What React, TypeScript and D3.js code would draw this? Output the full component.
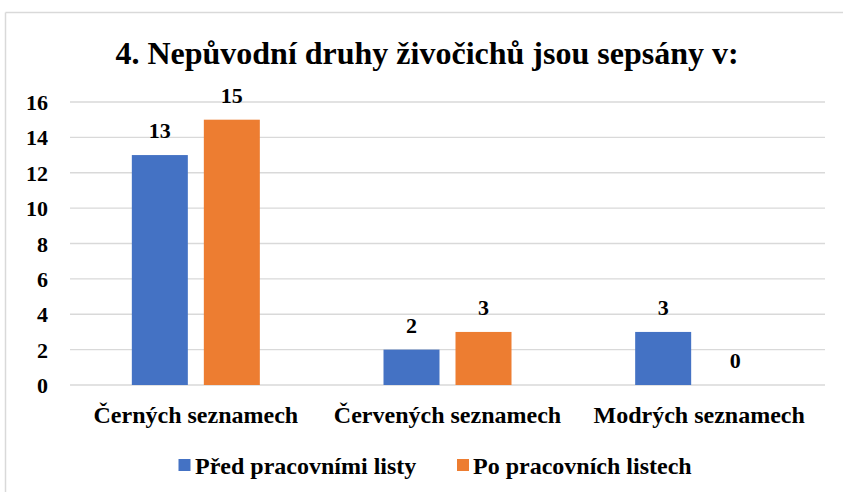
import React from "react";
import * as d3 from "d3";

const title = "4. Nepůvodní druhy živočichů jsou sepsány v:";
const categories = ["Černých seznamech", "Červených seznamech", "Modrých seznamech"];
const seriesNames = ["Před pracovními listy", "Po pracovních listech"];
const seriesBefore = [13, 2, 3];
const seriesAfter = [15, 3, 0];
const yTicks = [0, 2, 4, 6, 8, 10, 12, 14, 16];
const colors = ["#4472C4", "#ED7D31"];

const W = 843;
const H = 492;
const ts = { fontFamily: "Liberation Serif" };

export default function App() {
  const left = 70, right = 825, top = 102, bottom = 385;
  const x0 = d3.scaleBand<string>().domain(categories).range([left, right]).padding(0);
  const bw = x0.bandwidth();
  const outer = (bw - 128) / 2;
  const x1 = d3.scaleBand<string>().domain(seriesNames).range([outer, bw - outer]).paddingInner(16 / 72).paddingOuter(0);
  const y = d3.scaleLinear().domain([0, 16]).range([bottom, top]);
  const series = [seriesBefore, seriesAfter];

  return (
    <svg width={W} height={H} style={{ position: "absolute", left: 0, top: 0 }}>
      <rect x={0} y={0} width={W} height={H} fill="#fff" />
      <line x1={5.5} y1={12.5} x2={W} y2={12.5} stroke="#d9d9d9" strokeWidth={1.5} />
      <line x1={5.5} y1={12.5} x2={5.5} y2={H} stroke="#d9d9d9" strokeWidth={1.5} />
      <text x={427} y={64} textAnchor="middle" fontSize={32} fontWeight="bold" fill="#000" style={ts}>{title}</text>
      {yTicks.map((t) => (
        <g key={t}>
          <line x1={left} x2={right} y1={y(t)} y2={y(t)} stroke="#d9d9d9" strokeWidth={1.3} />
          <text x={48} y={y(t) + 8} textAnchor="end" fontSize={22} fontWeight="bold" fill="#000" style={ts}>{t}</text>
        </g>
      ))}
      {categories.map((c, i) => (
        <g key={c} transform={`translate(${x0(c)},0)`}>
          {series.map((s, j) => {
            const xx = x1(seriesNames[j])!;
            const v = s[i];
            return (
              <g key={j}>
                {v > 0 && (
                  <rect x={xx} y={y(v)} width={x1.bandwidth()} height={y(0) - y(v)} fill={colors[j]} />
                )}
                <text x={xx + x1.bandwidth() / 2} y={y(v) - 17} textAnchor="middle" fontSize={22} fontWeight="bold" fill="#000" style={ts}>{v}</text>
              </g>
            );
          })}
          <text x={bw / 2} y={423} textAnchor="middle" fontSize={24} fontWeight="bold" fill="#000" style={ts}>{c}</text>
        </g>
      ))}
      <g>
        <rect x={178.5} y={459} width={12} height={12} fill={colors[0]} />
        <text x={195} y={474} fontSize={24} fontWeight="bold" fill="#000" style={ts}>{seriesNames[0]}</text>
        <rect x={457} y={459} width={12} height={12} fill={colors[1]} />
        <text x={473} y={474} fontSize={24} fontWeight="bold" fill="#000" style={ts}>{seriesNames[1]}</text>
      </g>
    </svg>
  );
}
